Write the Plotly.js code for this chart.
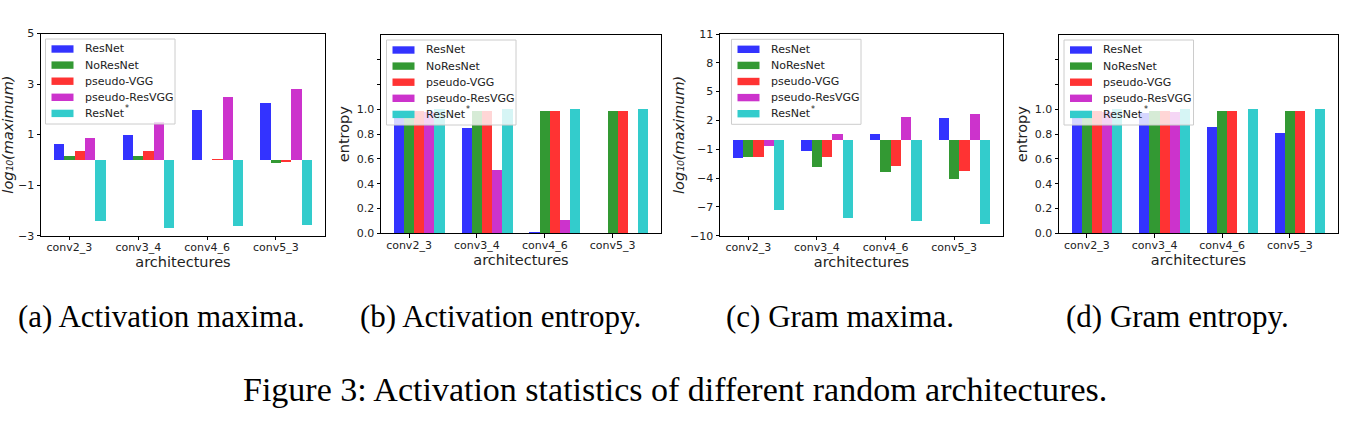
<!DOCTYPE html>
<html>
<head>
<meta charset="utf-8">
<script src="https://cdn.plot.ly/plotly-3.0.1.min.js"></script>
<style>html,body{margin:0;padding:0;background:#fff;}#chart{width:1357px;height:421px;}</style>
</head>
<body>
<div id="chart"></div>
<script>
// ---------- data ----------
const categories = ['conv2_3', 'conv3_4', 'conv4_6', 'conv5_3'];
const seriesNames = ['ResNet', 'NoResNet', 'pseudo-VGG', 'pseudo-ResVGG', 'ResNet*'];

// (a) Activation maxima, log10(maximum)
const actMaxResNet      = [0.63, 0.99, 1.98, 2.25];
const actMaxNoResNet    = [0.15, 0.14, 0.00, -0.12];
const actMaxPseudoVGG   = [0.35, 0.37, 0.02, -0.10];
const actMaxPseudoResVGG= [0.86, 1.49, 2.49, 2.81];
const actMaxResNetStar  = [-2.41, -2.69, -2.61, -2.58];

// (b) Activation entropy
const actEntResNet      = [0.97, 0.85, 0.013, 0.0];
const actEntNoResNet    = [0.99, 0.99, 0.987, 0.987];
const actEntPseudoVGG   = [0.99, 0.99, 0.987, 0.987];
const actEntPseudoResVGG= [0.98, 0.51, 0.105, 0.0];
const actEntResNetStar  = [1.0, 1.0, 1.0, 1.0];

// (c) Gram maxima, log10(maximum)
const gramMaxResNet      = [-1.86, -1.13, 0.57, 2.27];
const gramMaxNoResNet    = [-1.76, -2.80, -3.32, -4.06];
const gramMaxPseudoVGG   = [-1.76, -1.76, -2.70, -3.22];
const gramMaxPseudoResVGG= [-0.61, 0.60, 2.38, 2.69];
const gramMaxResNetStar  = [-7.29, -8.12, -8.44, -8.75];

// (d) Gram entropy
const gramEntResNet      = [0.96, 0.97, 0.86, 0.81];
const gramEntNoResNet    = [0.99, 0.99, 0.987, 0.987];
const gramEntPseudoVGG   = [0.99, 0.99, 0.987, 0.987];
const gramEntPseudoResVGG= [0.98, 0.98, 0.0, 0.0];
const gramEntResNetStar  = [1.0, 1.0, 1.0, 1.0];

// tick labels
const maxTicksA = [-3, -1, 1, 3, 5];
const maxTicksC = [-10, -7, -4, -1, 2, 5, 8, 11];
const entTickVals = [0, 0.2, 0.4, 0.6, 0.8, 1.0];
const entTickText = ['0.0', '0.2', '0.4', '0.6', '0.8', '1.0'];
const entUnlabeledTicks = [1.2, 1.4];

const maxTitle = '<i>log\u2081\u2080(maximum)</i>';
const entTitle = 'entropy';
const xTitle = 'architectures';
const subCaptions = ['(a) Activation maxima.', '(b) Activation entropy.', '(c) Gram maxima.', '(d) Gram entropy.'];
const figureCaption = 'Figure 3: Activation statistics of different random architectures.';

// ---------- styling / layout ----------
const W = 1357, H = 421;
const colors = ['#3333ff', '#339933', '#ff3333', '#cc33cc', '#33cccc'];
const barW = 0.15;
const minusFmt = v => v < 0 ? '\u2212' + Math.abs(v) : String(v);

const panels = [
  {series: [actMaxResNet, actMaxNoResNet, actMaxPseudoVGG, actMaxPseudoResVGG, actMaxResNetStar],
   box: [41, 325, 33.5, 235.7], yrange: [-3, 5], tickvals: maxTicksA, ticktext: maxTicksA.map(minusFmt), minor: null,
   ytitle: maxTitle, standoff: 4, legendPos: [45.5, 39]},
  {series: [actEntResNet, actEntNoResNet, actEntPseudoVGG, actEntPseudoResVGG, actEntResNetStar],
   box: [381, 661, 35, 233.3], yrange: [0, 1.6], tickvals: entTickVals, ticktext: entTickText, minor: entUnlabeledTicks,
   ytitle: entTitle, standoff: 3, legendPos: [386.5, 40]},
  {series: [gramMaxResNet, gramMaxNoResNet, gramMaxPseudoVGG, gramMaxPseudoResVGG, gramMaxResNetStar],
   box: [720, 1003, 34, 235.7], yrange: [-10, 11], tickvals: maxTicksC, ticktext: maxTicksC.map(minusFmt), minor: null,
   ytitle: maxTitle, standoff: 1, legendPos: [731.5, 39.3]},
  {series: [gramEntResNet, gramEntNoResNet, gramEntPseudoVGG, gramEntPseudoResVGG, gramEntResNetStar],
   box: [1059, 1338, 35, 233.3], yrange: [0, 1.6], tickvals: entTickVals, ticktext: entTickText, minor: entUnlabeledTicks,
   ytitle: entTitle, standoff: 3, legendPos: [1064, 40]}
];

const traces = [];
const layout = {
  width: W, height: H,
  margin: {l: 0, r: 0, t: 0, b: 0},
  paper_bgcolor: '#fff', plot_bgcolor: '#fff',
  font: {family: 'DejaVu Sans, sans-serif', size: 11, color: '#000'},
  bargap: 0,
  barmode: 'overlay',
  annotations: [],
  shapes: [],
  showlegend: false
};

const px2x = v => v / W;
const px2y = v => 1 - v / H;

panels.forEach((p, k) => {
  const sfx = k === 0 ? '' : String(k + 1);
  const xa = 'x' + sfx, ya = 'y' + sfx;
  p.series.forEach((vals, i) => {
    traces.push({
      type: 'bar',
      x: categories.map((c, j) => j + i * barW),
      y: vals,
      width: barW,
      name: seriesNames[i],
      xaxis: xa, yaxis: ya,
      marker: {color: colors[i], line: {width: 0}},
      hoverinfo: 'y'
    });
  });
  const [L, R, T, B] = p.box;
  layout['xaxis' + sfx] = {
    domain: [L / W, R / W],
    anchor: ya,
    range: [-0.2625, 3.8625],
    tickvals: categories.map((c, j) => j + barW),
    ticktext: categories,
    ticks: 'outside', ticklen: 3.5, tickwidth: 1, tickcolor: '#000',
    ticklabelstandoff: -2,
    showline: true, mirror: true, linecolor: '#000', linewidth: 1,
    showgrid: false, zeroline: false,
    tickfont: {family: 'DejaVu Sans', size: 11, color: '#222'},
    title: {text: xTitle, font: {family: 'DejaVu Sans', size: 14.5, color: '#222'}, standoff: 1},
    automargin: false, fixedrange: true
  };
  const yax = {
    domain: [1 - B / H, 1 - T / H],
    anchor: xa,
    range: p.yrange,
    tickmode: 'array',
    tickvals: p.tickvals,
    ticktext: p.ticktext,
    ticks: 'outside', ticklen: 3.5, tickwidth: 1, tickcolor: '#000',
    showline: true, mirror: true, linecolor: '#000', linewidth: 1,
    showgrid: false, zeroline: false,
    tickfont: {family: 'DejaVu Sans', size: 11, color: '#222'},
    title: {text: p.ytitle, font: {family: 'DejaVu Sans', size: 14.5, color: '#222'}, standoff: p.standoff},
    automargin: false, fixedrange: true
  };
  if (p.minor) {
    yax.minor = {tickmode: 'array', tickvals: p.minor, ticks: 'outside', ticklen: 3.5, tickwidth: 1, tickcolor: '#000', showgrid: false};
  }
  layout['yaxis' + sfx] = yax;

  // legend (matplotlib style: translucent framed box, wide colour patches)
  const [lx, ly] = p.legendPos;
  const legW = 129.5, legH = 85, rowGap = 16.1, firstRow = 10;
  layout.shapes.push({
    type: 'rect', xref: 'paper', yref: 'paper', layer: 'above',
    x0: px2x(lx), x1: px2x(lx + legW), y0: px2y(ly), y1: px2y(ly + legH),
    fillcolor: 'rgba(255,255,255,0.8)', line: {color: '#cccccc', width: 1}
  });
  seriesNames.forEach((nm, i) => {
    const cy = ly + firstRow + i * rowGap;
    layout.shapes.push({
      type: 'rect', xref: 'paper', yref: 'paper', layer: 'above',
      x0: px2x(lx + 6), x1: px2x(lx + 28), y0: px2y(cy - 3.7), y1: px2y(cy + 3.7),
      fillcolor: colors[i], line: {width: 0}
    });
    const starred = nm.endsWith('*');
    const base = starred ? nm.slice(0, -1) : nm;
    layout.annotations.push({
      text: base, x: px2x(lx + 37), y: px2y(cy), xref: 'paper', yref: 'paper',
      xanchor: 'left', yanchor: 'middle', showarrow: false,
      font: {family: 'DejaVu Sans', size: 11, color: '#222'}
    });
    if (starred) {
      // raised asterisk (superscript) drawn right after the label
      layout.annotations.push({
        text: '*', x: px2x(lx + 37 + 40.5), y: px2y(cy - 4.5), xref: 'paper', yref: 'paper',
        xanchor: 'left', yanchor: 'middle', showarrow: false,
        font: {family: 'DejaVu Sans', size: 8, color: '#222'}
      });
    }
  });
});

const capCenters = [161.5, 500, 839.5, 1177.5];
subCaptions.forEach((t, k) => {
  layout.annotations.push({
    text: t, x: capCenters[k] / W, y: 1 - 316 / H, xref: 'paper', yref: 'paper',
    xanchor: 'center', yanchor: 'middle', showarrow: false,
    font: {family: 'Liberation Serif, Times New Roman, serif', size: 31, color: '#000'}
  });
});
layout.annotations.push({
  text: figureCaption, x: 675 / W, y: 1 - 389 / H, xref: 'paper', yref: 'paper',
  xanchor: 'center', yanchor: 'middle', showarrow: false,
  font: {family: 'Liberation Serif, Times New Roman, serif', size: 34, color: '#000'}
});

Plotly.newPlot('chart', traces, layout, {displayModeBar: false, staticPlot: true});
</script>
</body>
</html>
